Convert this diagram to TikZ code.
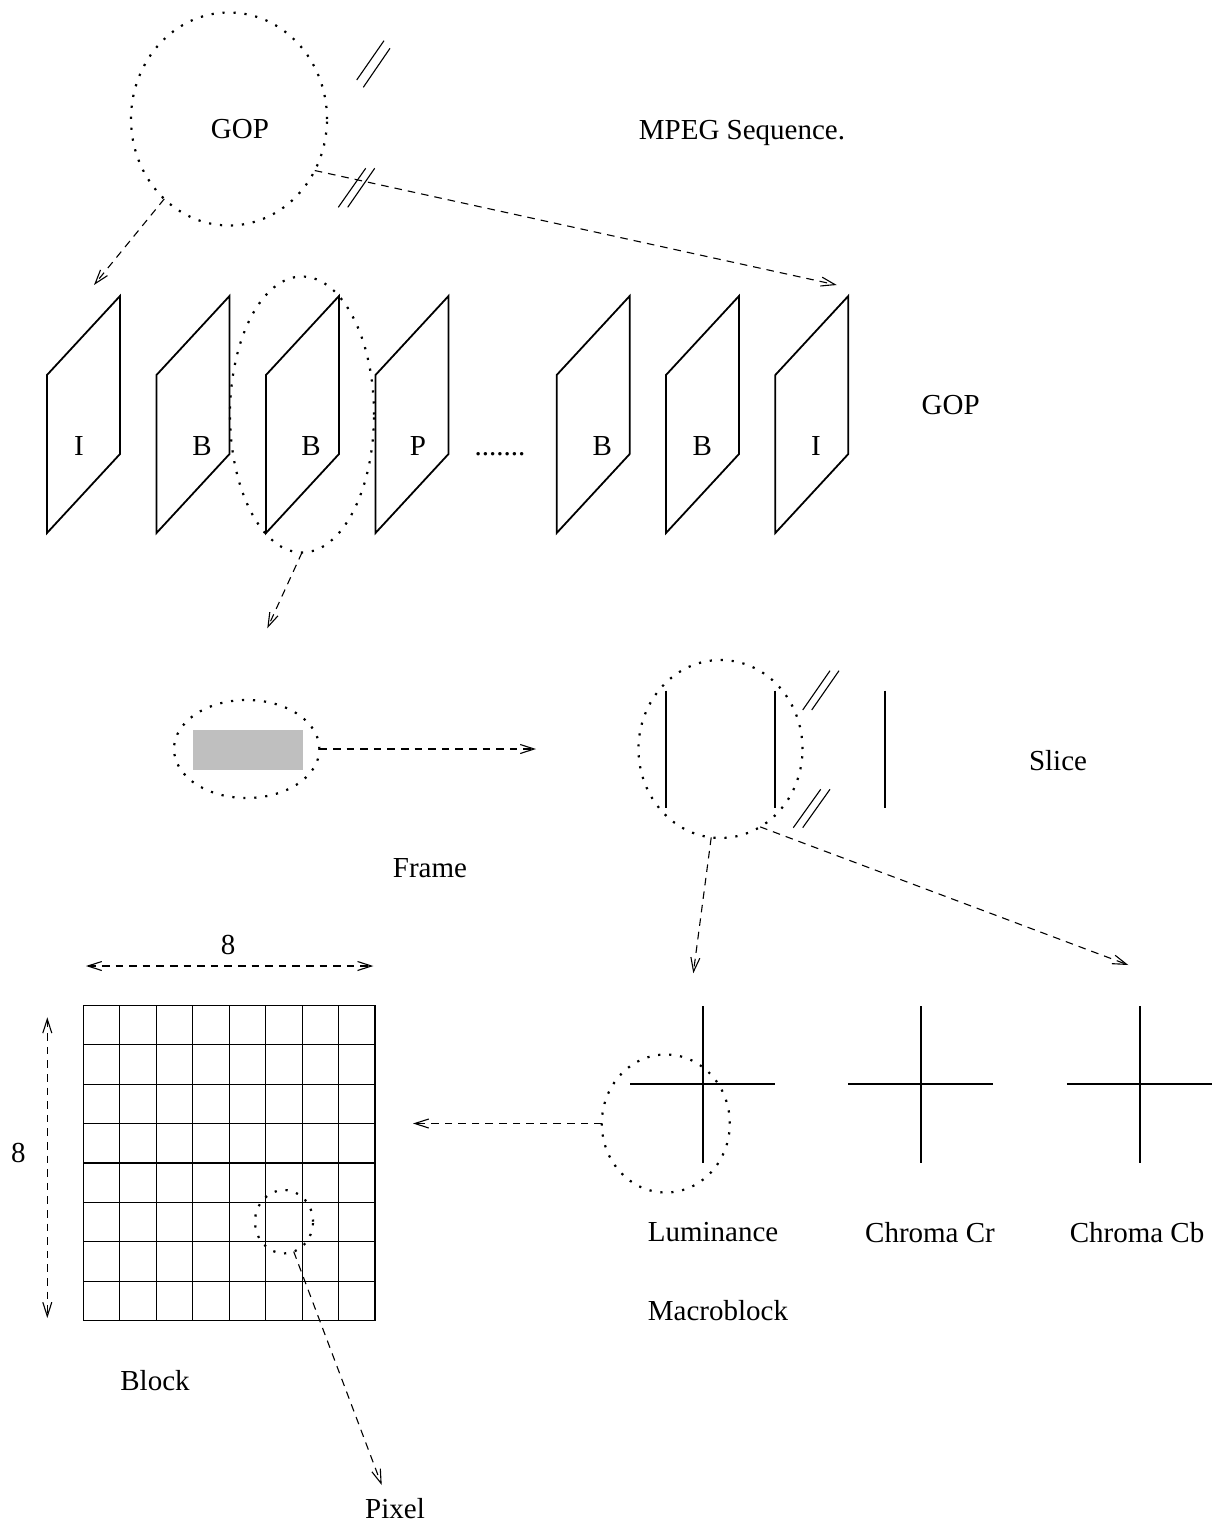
\documentclass[tikz,border=0pt]{standalone}
\usepackage{fontspec}
\setmainfont{Liberation Serif}
\usetikzlibrary{arrows.meta,shapes.geometric}
\begin{document}
\begin{tikzpicture}[x=0.5pt,y=-0.5pt,
  font=\fontsize{14.5}{17}\selectfont,
  dotring/.style={ellipse, draw, line width=1.1pt, dash pattern=on 1.1pt off 4.4pt, inner sep=0pt, outer sep=0pt},
  barb/.tip={Straight Barb[length=7pt,width=4.5pt]},
  dasharrow/.style={line width=0.55pt, dash pattern=on 3.8pt off 3pt, -barb},
  dimarrow/.style={line width=0.55pt, dash pattern=on 3.8pt off 3pt, barb-barb},
  breakmark/.style={line width=0.55pt},
  framebox/.style={line width=0.9pt, line join=miter},
  sliceline/.style={line width=1pt},
  crossline/.style={line width=1pt},
  gridline/.style={line width=0.55pt},
  lbl/.style={inner sep=0pt, text depth=0pt},
  flbl/.style={inner sep=0pt, anchor=base}
]
\useasboundingbox (0,0) rectangle (1216,1524);

% ---------- MPEG sequence ----------
\node[dotring, minimum width=98pt, minimum height=106.5pt] (gop) at (229,119) {};
\node[lbl] (gopT) at (240,128.7) {GOP};
\node[lbl] (mpeg) at (742,130) {MPEG Sequence.};
\draw[breakmark] (356.7,80) -- (384,40.7);
\draw[breakmark] (363.3,87.3) -- (390,48.3);
\draw[breakmark] (338.3,207.3) -- (365.7,168.3);
\draw[breakmark] (347.7,207.3) -- (374.7,168.3);

\coordinate (gopEndL) at (94,285);
\coordinate (gopEndR) at (836.7,285);
\draw[dasharrow] (gop.-129) -- (gopEndL);
\draw[dasharrow] (gop.-31) -- (gopEndR);

% ---------- GOP frames ----------
\foreach \L/\t/\lx/\n in {47/I/79/f1, 156.5/B/202/f2, 266/B/311/f3, 375.5/P/418/f4,
                          556.7/B/602.3/f5, 666/B/702.3/f6, 775.3/I/816/f7}{
  \draw[framebox] (\L,375) -- ++(73,-79) -- ++(0,158) -- ++(-73,79) -- cycle;
  \node[flbl] (\n) at (\lx,455) {\t};
}
\node[flbl] (dots) at (500,455) {.......};
\node[lbl] (gopR) at (950.7,405) {GOP};

\node[dotring, minimum width=72pt, minimum height=138pt] (bsel) at (302,414.5) {};
\coordinate (bselEnd) at (267.3,628.3);
\draw[dasharrow] (bsel.south) -- (bselEnd);

% ---------- Frame ----------
\node[dotring, minimum width=72.7pt, minimum height=49pt] (frsel) at (246.7,749) {};
\node[fill=black!25, minimum width=55.2pt, minimum height=19.9pt, inner sep=0pt] (slicebar) at (247.8,749.8) {};
\coordinate (frEnd) at (536,749);
\draw[dasharrow] (frsel.east) -- (frEnd);
\node[lbl] (frameL) at (430,868) {Frame};

% ---------- Slice ----------
\node[dotring, minimum width=82pt, minimum height=89pt] (slsel) at (720.5,749) {};
\draw[sliceline] (666,690.7) -- (666,808.3);
\draw[sliceline] (775.3,690.7) -- (775.3,808.3);
\draw[sliceline] (885,690.7) -- (885,808.3);
\draw[breakmark] (802.7,710) -- (830,670.7);
\draw[breakmark] (811.7,710) -- (839,670.7);
\draw[breakmark] (793.3,827.7) -- (820.7,789.3);
\draw[breakmark] (802.7,827.7) -- (830,789.3);
\node[lbl] (sliceL) at (1058,760) {Slice};

\coordinate (slEndA) at (693.3,973.3);
\coordinate (slEndB) at (1128.3,965);
\draw[dasharrow] (slsel.-96) -- (slEndA);
\draw[dasharrow] (slsel.-63) -- (slEndB);

% ---------- Macroblock ----------
\foreach \cx in {702.7, 920.7, 1139.5}{
  \draw[crossline] (\cx,1006) -- (\cx,1162.7) (\cx-72.7,1084) -- (\cx+72.7,1084);
}
\node[dotring, minimum width=64pt, minimum height=69pt] (lumsel) at (665.8,1123.5) {};
\coordinate (lumEnd) at (413,1123.5);
\draw[dasharrow] (lumsel.west) -- (lumEnd);
\node[lbl] (lum) at (713,1232) {Luminance};
\node[lbl] (cr) at (930,1232) {Chroma Cr};
\node[lbl] (cb) at (1137,1232) {Chroma Cb};
\node[lbl] (macro) at (718,1310) {Macroblock};

% ---------- Block ----------
\foreach \i in {0,...,8}{
  \draw[gridline] ({83.3+\i*36.46},1005.3) -- ({83.3+\i*36.46},1320.6);
  \draw[gridline] (83.3,{1005.3+\i*39.41}) -- (375,{1005.3+\i*39.41});
}
\coordinate (hL) at (86,966);
\coordinate (hR) at (373.3,966);
\draw[dimarrow] (hL) -- (hR);
\node[lbl] (eightH) at (228,945) {8};
\coordinate (vT) at (47.3,1017.3);
\coordinate (vB) at (47.3,1318);
\draw[dimarrow] (vT) -- (vB);
\node[lbl] (eightV) at (18.3,1153.3) {8};

\node[dotring, minimum width=29pt, minimum height=31.7pt] (pixsel) at (284,1221.7) {};
\coordinate (pixEnd) at (381.7,1485);
\draw[dasharrow] (pixsel.-72) -- (pixEnd);
\node[lbl] (block) at (155,1380) {Block};
\node[lbl] (pixel) at (395,1508) {Pixel};
\end{tikzpicture}
\end{document}
